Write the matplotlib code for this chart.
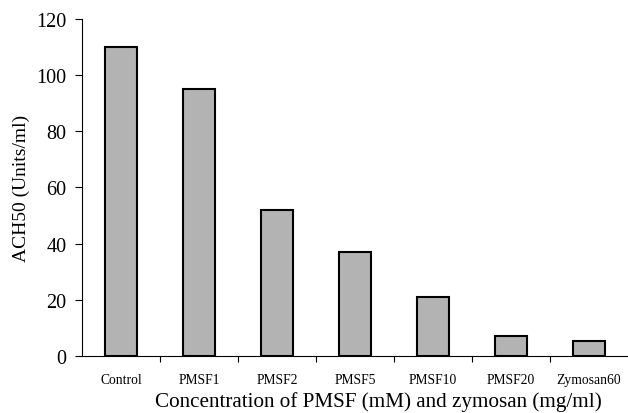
import matplotlib
matplotlib.use('Agg')
import matplotlib.pyplot as plt
import numpy as np

# data
categories = ['Control', 'PMSF1', 'PMSF2', 'PMSF5', 'PMSF10', 'PMSF20', 'Zymosan60']
ach50 = [110, 95, 52, 37, 21, 7, 5.3]

plt.rcParams['font.family'] = ['Liberation Serif', 'DejaVu Serif']

fig = plt.figure(figsize=(6.28, 4.14), dpi=100)
ax = fig.add_axes([0.1306, 0.1377, 0.8694, 0.814])

x = np.arange(len(categories))
ax.bar(x, ach50, width=0.41, color='#b3b3b3', edgecolor='black', linewidth=1.5)

ax.set_xlim(-0.5, len(categories) - 0.5)
ax.set_ylim(0, 120)
ax.set_yticks(np.arange(0, 121, 20))
ax.tick_params(axis='y', labelsize=14.5, direction='out', length=5, width=0.8, pad=6)

# ticks sit between categories, labels sit under the bars
ax.set_xticks(x[:-1] + 0.5)
ax.set_xticklabels([])
ax.set_xticks(x, minor=True)
ax.set_xticklabels(categories, minor=True, fontsize=9.8)
ax.tick_params(axis='x', which='major', direction='out', length=4, width=0.8)
ax.tick_params(axis='x', which='minor', length=0, pad=12)

ax.spines['top'].set_visible(False)
ax.spines['right'].set_visible(False)
ax.spines['left'].set_linewidth(0.8)
ax.spines['bottom'].set_linewidth(0.8)

ax.set_ylabel('ACH50 (Units/ml)', fontsize=14, labelpad=5)
ax.set_xlabel('Concentration of PMSF (mM) and zymosan (mg/ml)', fontsize=15.2, labelpad=0)
ax.xaxis.set_label_coords(0.542, -0.134)
ax.xaxis.label.set_va('center')

fig.savefig('out.png', dpi=100)
